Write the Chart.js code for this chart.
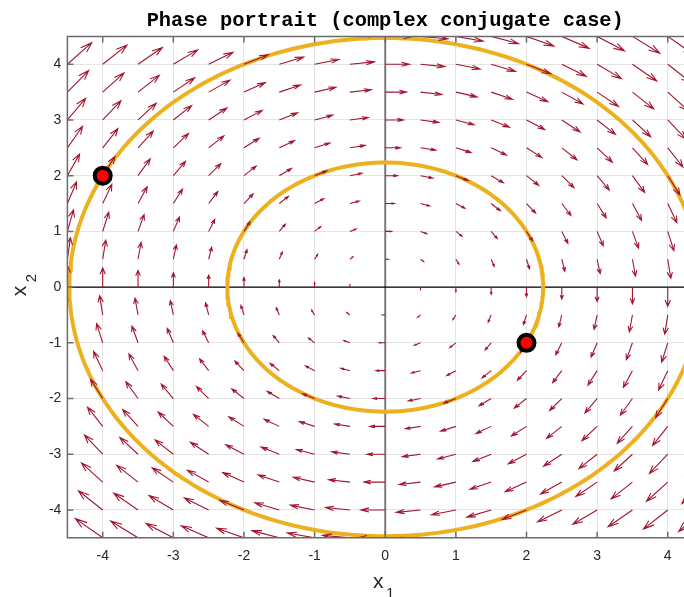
<!DOCTYPE html>
<html>
<head>
<meta charset="utf-8">
<script src="https://cdn.jsdelivr.net/npm/chart.js@4.4.1/dist/chart.umd.min.js"></script>
<style>
html,body{margin:0;padding:0;background:#fff;}
#wrap{width:684px;height:597px;}
</style>
</head>
<body>
<div id="wrap"><canvas id="phase" width="684" height="597"></canvas></div>
<script>
// tick labels
var xTicks = [-4, -3, -2, -1, 0, 1, 2, 3, 4];
var yTicks = [-4, -3, -2, -1, 0, 1, 2, 3, 4];
// quiver grid
var gridX = [-4.5, -4, -3.5, -3, -2.5, -2, -1.5, -1, -0.5, 0, 0.5, 1, 1.5, 2, 2.5, 3, 3.5, 4, 4.5];
var gridY = [-4.5, -4, -3.5, -3, -2.5, -2, -1.5, -1, -0.5, 0, 0.5, 1, 1.5, 2, 2.5, 3, 3.5, 4, 4.5];
// system x' = A x  (complex conjugate eigenvalues +-i)
var sysA = [[0, 1], [-1, 0]];
// initial conditions (red dots)
var startX = [-4, 2];
var startY = [2, -1];
var arrowScale = 0.086;

var arrowColor = '#A2142F';
var orbitColor = '#EDB120';

// solution x(t) = (cos t I + sin t A) x0, one full period
function orbit(x0, y0) {
  var pts = [];
  for (var k = 0; k <= 240; k++) {
    var t = 2 * Math.PI * k / 240, c = Math.cos(t), s = Math.sin(t);
    pts.push({
      x: c * x0 + s * (sysA[0][0] * x0 + sysA[0][1] * y0),
      y: c * y0 + s * (sysA[1][0] * x0 + sysA[1][1] * y0)
    });
  }
  return pts;
}

var dots = startX.map(function(x, i) { return {x: x, y: startY[i]}; });

var datasets = [{
  label: 'start',
  data: dots,
  showLine: false,
  pointRadius: 8,
  pointBorderWidth: 4,
  pointBackgroundColor: '#FF0000',
  pointBorderColor: '#000000'
}];
startX.forEach(function(x, i) {
  datasets.push({
    label: 'orbit' + i,
    data: orbit(x, startY[i]),
    showLine: true,
    borderColor: orbitColor,
    borderWidth: 4,
    pointRadius: 0,
    tension: 0
  });
});

function drawArrows(chart) {
  var ctx = chart.ctx, xs = chart.scales.x, ys = chart.scales.y, a = chart.chartArea;
  var alpha = 0.33, beta = 0.33;
  function px(v) { return xs.getPixelForValue(v); }
  function py(v) { return ys.getPixelForValue(v); }
  ctx.save();
  ctx.beginPath();
  ctx.rect(a.left, a.top, a.right - a.left, a.bottom - a.top);
  ctx.clip();
  ctx.strokeStyle = arrowColor;
  ctx.lineWidth = 1.1;
  ctx.beginPath();
  gridX.forEach(function(gx) {
    gridY.forEach(function(gy) {
      var u = (sysA[0][0] * gx + sysA[0][1] * gy) * arrowScale;
      var v = (sysA[1][0] * gx + sysA[1][1] * gy) * arrowScale;
      if (u === 0 && v === 0) return;
      var tx = gx + u, ty = gy + v;
      ctx.moveTo(px(gx), py(gy));
      ctx.lineTo(px(tx), py(ty));
      ctx.moveTo(px(tx - alpha * (u + beta * v)), py(ty - alpha * (v - beta * u)));
      ctx.lineTo(px(tx), py(ty));
      ctx.lineTo(px(tx - alpha * (u - beta * v)), py(ty - alpha * (v + beta * u)));
    });
  });
  ctx.stroke();
  ctx.restore();
}

var frame = {
  id: 'frame',
  beforeDatasetsDraw: function(chart) {
    var ctx = chart.ctx, xs = chart.scales.x, ys = chart.scales.y, a = chart.chartArea;
    ctx.save();
    // x2 axis (x1 = 0)
    ctx.strokeStyle = '#7a7a7a';
    ctx.lineWidth = 2;
    ctx.beginPath();
    ctx.moveTo(xs.getPixelForValue(0), a.top);
    ctx.lineTo(xs.getPixelForValue(0), a.bottom);
    ctx.stroke();
    // x1 axis (x2 = 0)
    ctx.strokeStyle = '#000';
    ctx.lineWidth = 1.3;
    ctx.beginPath();
    ctx.moveTo(a.left, ys.getPixelForValue(0));
    ctx.lineTo(a.right, ys.getPixelForValue(0));
    ctx.stroke();
    ctx.restore();
  },
  beforeDatasetDraw: function(chart, args) {
    if (args.index === 0) drawArrows(chart);
  },
  afterDraw: function(chart) {
    var ctx = chart.ctx, xs = chart.scales.x, ys = chart.scales.y, a = chart.chartArea;
    ctx.save();
    ctx.strokeStyle = '#6b6b6b';
    ctx.lineWidth = 1.5;
    ctx.beginPath();
    ctx.moveTo(a.right + 2, a.top); ctx.lineTo(a.left, a.top);
    ctx.lineTo(a.left, a.bottom); ctx.lineTo(a.right + 2, a.bottom);
    // inside ticks
    xTicks.forEach(function(t) {
      var x = xs.getPixelForValue(t);
      ctx.moveTo(x, a.bottom); ctx.lineTo(x, a.bottom - 6);
      ctx.moveTo(x, a.top); ctx.lineTo(x, a.top + 6);
    });
    yTicks.forEach(function(t) {
      var y = ys.getPixelForValue(t);
      ctx.moveTo(a.left, y); ctx.lineTo(a.left + 6, y);
    });
    ctx.stroke();

    var cx = xs.getPixelForValue(0);
    ctx.fillStyle = '#000';
    ctx.font = 'bold 20.4px "Liberation Mono", "Courier New", monospace';
    ctx.textAlign = 'center';
    ctx.textBaseline = 'middle';
    ctx.fillText('Phase portrait (complex conjugate case)', cx, 21);

    ctx.fillStyle = '#262626';
    ctx.textAlign = 'center';
    ctx.textBaseline = 'alphabetic';
    ctx.font = '21px "Liberation Sans", Arial, sans-serif';
    ctx.fillText('x', cx - 7, 588);
    ctx.font = '15px "Liberation Sans", Arial, sans-serif';
    ctx.fillText('1', cx + 5, 598);

    ctx.translate(26, ys.getPixelForValue(0));
    ctx.rotate(-Math.PI / 2);
    ctx.font = '21px "Liberation Sans", Arial, sans-serif';
    ctx.fillText('x', -4, 0);
    ctx.font = '15px "Liberation Sans", Arial, sans-serif';
    ctx.fillText('2', 9, 10);
    ctx.restore();
  }
};

new Chart(document.getElementById('phase'), {
  type: 'scatter',
  data: {datasets: datasets},
  options: {
    responsive: false,
    animation: false,
    devicePixelRatio: 1,
    layout: {autoPadding: false, padding: {top: 36.4, right: 0, left: 0, bottom: 0}},
    plugins: {legend: {display: false}, tooltip: {enabled: false}, title: {display: false}},
    scales: {
      x: {
        type: 'linear', min: -4.5, max: 4.23,
        afterBuildTicks: function(s) { s.ticks = xTicks.map(function(v) { return {value: v}; }); },
        afterFit: function(s) { s.height = 59.2; s.paddingLeft = 0; s.paddingRight = 0; },
        grid: {color: '#e4e4e4', lineWidth: 1, drawTicks: false},
        border: {display: false},
        ticks: {padding: 10, color: '#262626', font: {family: '"Liberation Sans", Arial', size: 14},
                callback: function(v) { return String(v); }}
      },
      y: {
        type: 'linear', min: -4.5, max: 4.5,
        afterBuildTicks: function(s) { s.ticks = yTicks.map(function(v) { return {value: v}; }); },
        afterFit: function(s) { s.width = 67.4; s.paddingTop = 0; s.paddingBottom = 0; },
        grid: {color: '#e4e4e4', lineWidth: 1, drawTicks: false},
        border: {display: false},
        ticks: {padding: 6, color: '#262626', font: {family: '"Liberation Sans", Arial', size: 14},
                callback: function(v) { return String(v); }}
      }
    }
  },
  plugins: [frame]
});
</script>
</body>
</html>
